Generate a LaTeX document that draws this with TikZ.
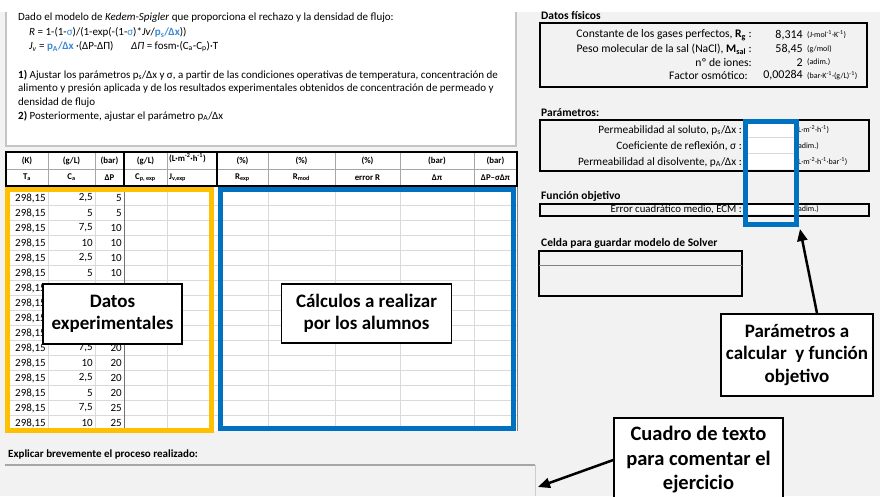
\documentclass[tikz,border=0pt]{standalone}
\usepackage{fontspec}
\setmainfont{Carlito}
\usetikzlibrary{arrows.meta}
\definecolor{sheetgray}{HTML}{F2F2F2}
\definecolor{gridgray}{HTML}{DADADA}
\definecolor{boxgray}{HTML}{C4C4C4}
\definecolor{xlblue}{HTML}{0070C0}
\definecolor{xlyellow}{HTML}{FFC000}
\definecolor{formblue}{HTML}{3A8AD8}
\newcommand{\fb}[1]{\textcolor{formblue}{#1}}
\newcommand{\fbb}[1]{\textcolor{formblue}{\bfseries #1}}

\begin{document}
\begin{tikzpicture}[x=1pt,y=-1pt,
  txt/.style={anchor=west,inner sep=0pt,font=\fontsize{11}{12}\selectfont},
  hd/.style={inner sep=0pt,font=\bfseries\fontsize{8.8}{10}\selectfont},
  num/.style={anchor=east,inner sep=0pt,font=\fontsize{11}{12}\selectfont},
  val/.style={anchor=east,inner sep=0pt,font=\fontsize{12}{13}\selectfont},
  lbl/.style={anchor=east,inner sep=0pt,font=\fontsize{11.3}{12}\selectfont},
  unit/.style={anchor=west,inner sep=0pt,font=\fontsize{8}{9}\selectfont},
  ttl/.style={anchor=west,inner sep=0pt,font=\bfseries\fontsize{11.5}{12}\selectfont},
  callout/.style={draw=black,line width=1.5pt,fill=white,align=center,inner sep=0pt,font=\bfseries\fontsize{19}{22.5}\selectfont},
  callarrow/.style={line width=2.5pt,-{Triangle[length=12pt,width=10pt]}},
  panel/.style={draw=black,line width=2pt}]

\useasboundingbox (0,0) rectangle (880,496);
\fill[sheetgray] (0,12) rectangle (880,496);

% cuadro de enunciado
\fill[white] (6,12) rectangle (516,146);
\draw[boxgray,line width=1.5pt] (6,12) -- (6,146) -- (516,146) -- (516,12);

\node[txt] (l1) at (18,17.5) {Dado el modelo de \textit{Kedem-Spigler} que proporciona el rechazo y la densidad de flujo:};
\node[txt] (l2) at (29,32.5) {\textit{R} = 1-(1-\fb{σ})/(1-exp(-(1-\fb{σ})*\textit{Jv}/\fbb{p\textsubscript{s}/Δx}))};
\node[txt] (l3) at (29,46.5) {\textit{J\textsubscript{v}} = \fbb{p\textsubscript{A}/Δx} ·(ΔP-ΔΠ)};
\node[txt] (l3b) at (131,46.5) {\textit{ΔΠ} = fosm·(C\textsubscript{a}-C\textsubscript{p})·T};
\node[txt] (l5) at (18,75) {\textbf{1)} Ajustar los parámetros p\textsubscript{s}/Δx y σ, a partir de las condiciones operativas de temperatura, concentración de};
\node[txt] (l6) at (18,89) {alimento y presión aplicada y de los resultados experimentales obtenidos de concentración de permeado y};
\node[txt] (l7) at (18,103) {densidad de flujo};
\node[txt] (l8) at (18,116) {\textbf{2)} Posteriormente, ajustar el parámetro p\textsubscript{A}/Δx};

% tabla
\fill[white] (6,152) rectangle (517,430.5);
\foreach \i in {0,...,14}
{
\draw[gridgray] (6,{205.5+15*\i}) -- (517,{205.5+15*\i});
}
\foreach \x in {48,95,167,268,335,400,474}
{
\draw[gridgray] (\x,186) -- (\x,430.5);
\draw[gray!70] (\x,152) -- (\x,186);
}
\draw[gray!90!black] (124,186) -- (124,430.5);
\draw[gray] (517,186) -- (517,430.5) (6,186) -- (6,430.5);
\draw[gray!70] (6,169.5) -- (517,169.5);
\draw[line width=1.2pt] (124,152) -- (124,186) (217,152) -- (217,186);
\draw[line width=1.5pt] (6,152) rectangle (517,186);

\foreach \x/\u [count=\i] in {27/{(K)},71.5/{(g/L)},109.5/{(bar)},145.5/{(g/L)},242.5/{(\%)},301.5/{(\%)},367.5/{(\%)},437/{(bar)},495.5/{(bar)}}
{
\node[hd] (u\i) at (\x,161) {\u};
}
\node[hd,anchor=west] (u0) at (169,158.5) {(L·m\textsuperscript{-2}·h\textsuperscript{-1})};
\foreach \x/\n [count=\i] in {27/{T\textsubscript{a}},71.5/{C\textsubscript{a}},109.5/{ΔP},145.5/{C\textsubscript{p, exp}},242.5/{R\textsubscript{exp}},301.5/{R\textsubscript{mod}},367.5/{error R},437/{Δπ},495.5/{ΔP–σΔπ}}
{
\node[hd] (n\i) at (\x,177.5) {\n};
}
\node[hd,anchor=west] (n0) at (169,177.5) {J\textsubscript{v,exp}};

\foreach \i in {0,...,15}
{
\node[num] (t\i) at (46,{198+15*\i}) {298,15};
}
\foreach \i/\c/\p in {0/2{,}5/5,1/5/5,2/7{,}5/10,3/10/10,4/2{,}5/10,5/5/10,10/7{,}5/20,11/10/20,12/2{,}5/20,13/5/20,14/7{,}5/25,15/10/25}
{
\node[num] (ca\i) at (93,{198+15*\i}) {\c};
\node[num] (dp\i) at (122,{198+15*\i}) {\p};
}

\draw[xlyellow,line width=5pt] (7,189) rectangle (211.5,430);
\draw[xlblue,line width=5pt] (220.5,189.5) rectangle (513,428.5);

\node[callout,minimum width=139pt,minimum height=60pt] (datos) at (112.5,314) {Datos\\experimentales};
\node[callout,minimum width=170pt,minimum height=59pt] (calc) at (366.5,313.5) {Cálculos a realizar\\por los alumnos};

% datos fisicos
\node[ttl] (fis) at (541,16) {Datos físicos};
\draw[panel] (540,23) rectangle (867,87);
\node[lbl,font=\fontsize{11.6}{12}\selectfont] (rg) at (752,35) {Constante de los gases perfectos, \textbf{R\textsubscript{g}} :};
\node[val] (rgv) at (803,35) {8,314};
\node[unit] (rgu) at (807,35) {(J·mol\textsuperscript{-1}·K\textsuperscript{-1})};
\node[lbl,font=\fontsize{11.6}{12}\selectfont] (ms) at (752,49) {Peso molecular de la sal (NaCl), \textbf{M\textsubscript{sal}} :};
\node[val] (msv) at (803,49) {58,45};
\node[unit] (msu) at (807,49) {(g/mol)};
\node[lbl,font=\fontsize{11.6}{12}\selectfont] (io) at (752,62.5) {nº de iones:};
\node[val] (iov) at (803,62.5) {2};
\node[unit] (iou) at (807,62.5) {(adim.)};
\node[lbl,font=\fontsize{11.6}{12}\selectfont] (fo) at (748,75.5) {Factor osmótico:};
\node[val] (fov) at (803,75.5) {0,00284};
\node[unit] (fou) at (807,75.5) {(bar·K\textsuperscript{-1}·(g/L)\textsuperscript{-1})};

% parametros
\node[ttl] (parm) at (541,113) {Parámetros:};
\draw[panel] (540,120) rectangle (869,171);
\fill[white] (748,122) rectangle (795,169);
\draw[gridgray] (748,137.5) -- (795,137.5) (748,153.5) -- (795,153.5);
\node[lbl] (ps) at (742,130) {Permeabilidad al soluto, p\textsubscript{s}/Δx :};
\node[unit] (psu) at (795.5,130) {(L·m\textsuperscript{-2}·h\textsuperscript{-1})};
\node[lbl] (sg) at (742,146) {Coeficiente de reflexión, σ :};
\node[unit] (sgu) at (795.5,146) {(adim.)};
\node[lbl] (pa) at (742,162) {Permeabilidad al disolvente, p\textsubscript{A}/Δx :};
\node[unit] (pau) at (795.5,162) {(L·m\textsuperscript{-2}·h\textsuperscript{-1}·bar\textsuperscript{-1})};

% funcion objetivo
\node[ttl] (fobj) at (541,196.5) {Función objetivo};
\draw[panel] (540,203.5) rectangle (869,215.5);
\fill[white] (748,205) rectangle (795,214);
\node[lbl,font=\fontsize{10.8}{11}\selectfont] (ecm) at (742,209.5) {Error cuadrático medio, ECM :};
\node[unit] (ecmu) at (795.5,209.5) {(adim.)};

% solver
\node[ttl] (celda) at (541,243) {Celda para guardar modelo de Solver};
\draw[panel] (539,251) rectangle (742,296);
\draw[gray,line width=1pt] (539,265.5) -- (742,265.5);

\draw[xlblue,line width=5pt] (745.5,121) rectangle (796.7,224);

\node[callout,minimum width=152pt,minimum height=82pt] (pcalc) at (797,355) {Parámetros a\\calcular\ \ y función\\objetivo};
\coordinate (ptip) at (800,229);
\draw[callarrow] ([xshift=20pt]pcalc.north) -- (ptip);

% comentario
\node[ttl,font=\bfseries\fontsize{11}{12}\selectfont] (expl) at (8,454) {Explicar brevemente el proceso realizado:};
\draw[gray!70,line width=2.5pt] (5,465) -- (535,465);
\draw[gray!40] (535,465) -- (535,496);
\node[callout,font=\bfseries\fontsize{20.5}{24.5}\selectfont,minimum width=169pt,minimum height=84pt] (cuadro) at (698.5,460) {Cuadro de texto\\para comentar el\\ejercicio};
\coordinate (ctip) at (538,487);
\draw[callarrow] (cuadro.west) -- (ctip);
\end{tikzpicture}
\end{document}
